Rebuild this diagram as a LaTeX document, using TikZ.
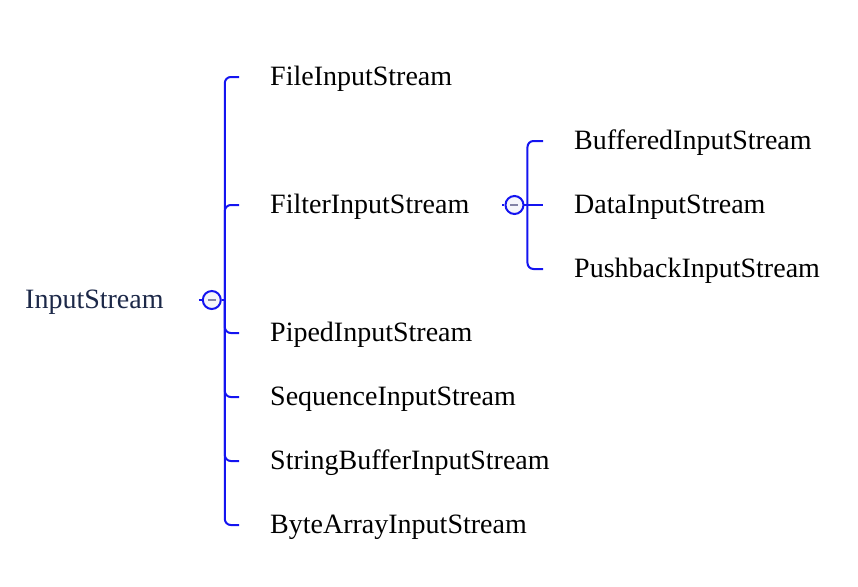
\documentclass[tikz,border=0pt]{standalone}
\usepackage{fontspec}
\setmainfont{Liberation Serif}
\usetikzlibrary{positioning}
\definecolor{branchblue}{RGB}{20,20,240}
\definecolor{rootnavy}{RGB}{28,40,72}
\definecolor{togglefill}{RGB}{245,245,250}
\definecolor{minusgray}{RGB}{130,130,165}
\tikzset{
  item/.style={inner sep=0pt, text height=20pt, text depth=4pt, anchor=west, font=\fontsize{28}{34}\selectfont},
  toggle/.style={circle, draw=branchblue, fill=togglefill, line width=2pt, minimum size=18pt, inner sep=0pt,
    path picture={\draw[minusgray, line width=1.6pt] ([xshift=-4pt]path picture bounding box.center) -- ([xshift=4pt]path picture bounding box.center);}},
  stub/.style={draw=branchblue, line width=2pt},
  branch/.style={draw=branchblue, line width=2pt, rounded corners=6pt, shorten >=31pt},
}
\begin{document}
\begin{tikzpicture}[x=1pt, y=-1pt]
    \useasboundingbox (0,0) rectangle (858,586);
    \node(InputStream)      [item, text=rootnavy] at (25,300)    {InputStream};
    \node(InputStreamToggle) [toggle, right=38pt of InputStream] {};
    \coordinate(InputStreamSpine) at ([xshift=3pt]InputStreamToggle.east);
    \node(FileInputStream)  [item] at (270,77)                   {FileInputStream};
    \node(FilterInputStream) [item, below=128pt of FileInputStream.west, anchor=west] {FilterInputStream};
    \node(PipedInputStream) [item, below=128pt of FilterInputStream.west, anchor=west] {PipedInputStream};
    \node(SequenceInputStream) [item, below=64pt of PipedInputStream.west, anchor=west] {SequenceInputStream};
    \node(StringBufferInputStream) [item, below=64pt of SequenceInputStream.west, anchor=west] {StringBufferInputStream};
    \node(ByteArrayInputStream) [item, below=64pt of StringBufferInputStream.west, anchor=west] {ByteArrayInputStream};
    \node(FilterInputStreamToggle) [toggle, right=35pt of FilterInputStream] {};
    \coordinate(FilterInputStreamSpine) at ([xshift=3pt]FilterInputStreamToggle.east);
    \node(BufferedInputStream) [item] at (574,141)               {BufferedInputStream};
    \node(DataInputStream)  [item, below=64pt of BufferedInputStream.west, anchor=west] {DataInputStream};
    \node(PushbackInputStream) [item, below=64pt of DataInputStream.west, anchor=west] {PushbackInputStream};
    \draw[stub, shorten <=35pt] (InputStream) -- (InputStreamToggle);
    \draw[stub] (InputStreamToggle) -- (InputStreamSpine);
    \draw[branch] (InputStreamSpine) |- (FileInputStream);
    \draw[branch] (InputStreamSpine) |- (FilterInputStream);
    \draw[branch] (InputStreamSpine) |- (PipedInputStream);
    \draw[branch] (InputStreamSpine) |- (SequenceInputStream);
    \draw[branch] (InputStreamSpine) |- (StringBufferInputStream);
    \draw[branch] (InputStreamSpine) |- (ByteArrayInputStream);
    \draw[stub, shorten <=33pt] (FilterInputStream) -- (FilterInputStreamToggle);
    \draw[stub] (FilterInputStreamToggle) -- (FilterInputStreamSpine);
    \draw[branch] (FilterInputStreamSpine) |- (BufferedInputStream);
    \draw[branch] (FilterInputStreamSpine) -- (DataInputStream);
    \draw[branch] (FilterInputStreamSpine) |- (PushbackInputStream);
\end{tikzpicture}
\end{document}
